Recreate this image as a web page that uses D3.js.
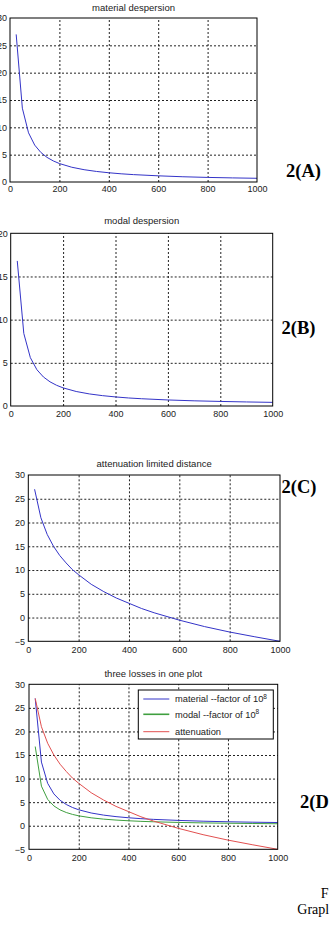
<!DOCTYPE html>
<html lang="en">
<head>
<meta charset="utf-8">
<title>Fiber losses</title>
<script src="https://cdn.jsdelivr.net/npm/d3@7"></script>
<style>
  body { margin: 0; background: #fff; }
  svg { display: block; }
  .tick text { font-family: 'Liberation Sans', Arial, sans-serif; font-size: 9px; fill: #222; }
  .grid line { stroke: #222; stroke-dasharray: 2,2; }
  .title { font-family: 'Liberation Sans', Arial, sans-serif; font-size: 9.5px; fill: #222; }
  .tag { font-family: 'Liberation Serif', 'Times New Roman', serif; font-weight: bold; font-size: 18.5px; fill: #000; }
  .cap { font-family: 'Liberation Serif', 'Times New Roman', serif; font-size: 14px; fill: #000; }
</style>
</head>
<body>
<div id="chart"></div>
<script>

/* Data */
/* ==== */

var distance = [25, 50, 75, 100, 125, 150, 175, 200, 250, 300, 350, 400, 450, 500, 600, 700, 800, 900, 1000];

var material = [27.0, 13.5, 9.0, 6.75, 5.4, 4.5, 3.86, 3.38, 2.7, 2.25, 1.93, 1.69, 1.5, 1.35, 1.13, 0.96, 0.84, 0.75, 0.68];
var modal = [16.8, 8.4, 5.6, 4.2, 3.36, 2.8, 2.4, 2.1, 1.68, 1.4, 1.2, 1.05, 0.93, 0.84, 0.7, 0.6, 0.53, 0.47, 0.42];
var attenuation = [27.0, 21.0, 17.5, 15.0, 13.05, 11.5, 10.1, 9.0, 7.0, 5.45, 4.1, 3.0, 1.9, 1.0, -0.55, -1.9, -3.05, -4.05, -5.0];

var xTicks = [0, 200, 400, 600, 800, 1000];
var yTicksA = [0, 5, 10, 15, 20, 25, 30];
var yTicksB = [0, 5, 10, 15, 20];
var yTicksC = [-5, 0, 5, 10, 15, 20, 25, 30];

var titles = ['material despersion', 'modal despersion', 'attenuation limited distance', 'three losses in one plot'];
var tags = ['2(A)', '2(B)', '2(C)', '2(D'];
var legendLabels = ['material --factor of 10', 'modal --factor of 10', 'attenuation'];


/* Set up */
/* ====== */

var width = 330,
    height = 926;

var svg = d3.select('#chart').append('svg')
    .attr('width', width)
    .attr('height', height);

var blue = '#3434c8',
    green = '#3f9f3f',
    red = '#e25050';

// panel boxes
var panels = [
  { left: 10, right: 257, top: 18, bottom: 182, ticks: yTicksA, titleY: 10.5, xPad: 4, yPad: 3,
    series: [{ values: material, color: blue }], tag: { x: 286, y: 176.5 } },
  { left: 10.7, right: 272.7, top: 233.3, bottom: 406, ticks: yTicksB, titleY: 224, xPad: 4.5, yPad: 3,
    series: [{ values: modal, color: blue }], tag: { x: 281.5, y: 334 } },
  { left: 28.3, right: 280, top: 475, bottom: 641.3, ticks: yTicksC, titleY: 466.5, xPad: 5.5, yPad: 3.3,
    series: [{ values: attenuation, color: blue }], tag: { x: 281.5, y: 492.5 } },
  { left: 29, right: 277.7, top: 684.3, bottom: 849.3, ticks: yTicksC, titleY: 676.5, xPad: 5.5, yPad: 4,
    series: [{ values: material, color: blue }, { values: modal, color: green }, { values: attenuation, color: red }],
    tag: { x: 300, y: 807.5 }, legend: true }
];


/* Drawing */
/* ======= */

function drawPanel(p, i) {

  var w = p.right - p.left,
      h = p.bottom - p.top;

  var x = d3.scaleLinear().domain([0, 1000]).range([0, w]);
  var y = d3.scaleLinear().domain(d3.extent(p.ticks)).range([h, 0]);

  var g = svg.append('g').attr('transform', 'translate(' + p.left + ',' + p.top + ')');

  g.append('rect')
      .attr('width', w).attr('height', h)
      .attr('fill', '#fff');

  // x grid + labels
  var gx = g.append('g')
      .attr('class', 'grid')
      .attr('transform', 'translate(0,' + h + ')')
      .call(d3.axisBottom(x).tickValues(xTicks).tickFormat(d3.format('d')).tickSize(-h).tickPadding(p.xPad));
  gx.select('.domain').remove();
  gx.selectAll('.tick').filter(function(d) { return d === 0 || d === 1000; }).select('line').remove();

  // y grid + labels
  var gy = g.append('g')
      .attr('class', 'grid')
      .call(d3.axisLeft(y).tickValues(p.ticks).tickFormat(d3.format('d')).tickSize(-w).tickPadding(p.yPad));
  gy.select('.domain').remove();
  gy.selectAll('.tick').filter(function(d, j) { return j === 0 || j === p.ticks.length - 1; }).select('line').remove();

  // lines
  var line = d3.line()
      .x(function(d, j) { return x(distance[j]); })
      .y(function(d) { return y(d); });

  p.series.forEach(function(s) {
    g.append('path')
        .datum(s.values)
        .attr('fill', 'none')
        .attr('stroke', s.color)
        .attr('stroke-width', 1)
        .attr('d', line);
  });

  // frame
  g.append('rect')
      .attr('width', w).attr('height', h)
      .attr('fill', 'none')
      .attr('stroke', '#000')
      .attr('stroke-width', 1);

  // title
  svg.append('text')
      .attr('class', 'title')
      .attr('x', p.left + w / 2)
      .attr('y', p.titleY)
      .attr('text-anchor', 'middle')
      .text(titles[i]);

  // figure tag
  svg.append('text')
      .attr('class', 'tag')
      .attr('x', p.tag.x)
      .attr('y', p.tag.y)
      .text(tags[i]);

  if (p.legend) drawLegend(p);

} // drawPanel()


function drawLegend(p) {

  var lg = svg.append('g').attr('transform', 'translate(138.3,690)');

  lg.append('rect')
      .attr('width', 135).attr('height', 49)
      .attr('fill', '#fff')
      .attr('stroke', '#000');

  var rowY = [9, 24.3, 41.7];

  p.series.forEach(function(s, j) {
    lg.append('line')
        .attr('x1', 5).attr('x2', 31)
        .attr('y1', rowY[j]).attr('y2', rowY[j])
        .attr('stroke', s.color)
        .attr('stroke-width', j === 1 ? 1.6 : 1);

    var t = lg.append('text')
        .attr('class', 'title')
        .attr('x', 36.7)
        .attr('y', rowY[j])
        .attr('dy', '0.35em')
        .style('font-size', '9.3px')
        .text(legendLabels[j]);

    if (j < 2) {
      t.append('tspan')
          .attr('dy', '-0.5em')
          .style('font-size', '6.5px')
          .text('8');
    }
  });

} // drawLegend()


panels.forEach(drawPanel);

// caption fragments at the right edge
svg.append('text').attr('class', 'cap').attr('x', 320.7).attr('y', 898).text('F');
svg.append('text').attr('class', 'cap').attr('x', 297.3).attr('y', 914).text('Grapl');

</script>
</body>
</html>
